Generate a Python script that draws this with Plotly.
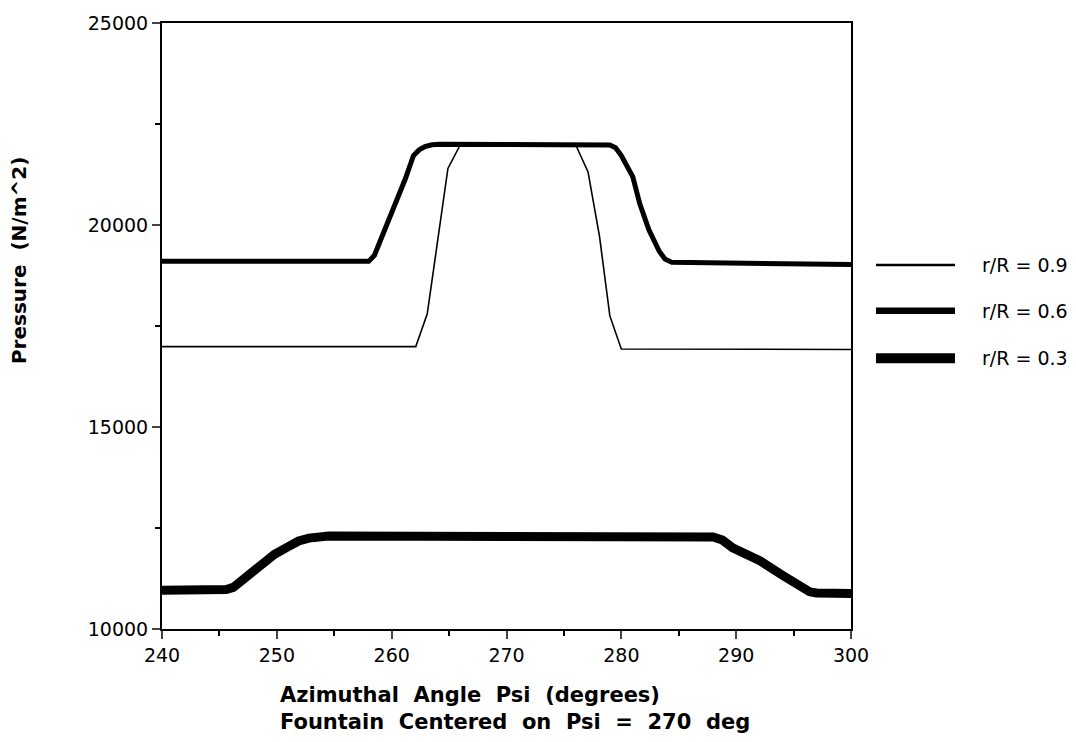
import plotly.graph_objects as go

# Data
psi_09 = [240, 262.1, 263.1, 264.9, 266.0, 276.0, 277.1, 278.1, 279.0, 280.0, 300]
p_09 = [16990, 16990, 17800, 21400, 22000, 22000, 21315, 19720, 17750, 16930, 16920]

psi_06 = [240, 258.0, 258.5, 258.9, 259.7, 260.5, 261.2, 261.9, 262.4, 262.9, 263.5, 264.2,
          278.5, 279.0, 279.5, 280.0, 281.0, 281.6, 282.4, 283.3, 283.8, 284.4, 300]
p_06 = [19100, 19100, 19250, 19530, 20040, 20615, 21150, 21720, 21860, 21940, 21985, 22000,
        22000, 21980, 21910, 21720, 21190, 20530, 19880, 19350, 19160, 19075, 19020]

psi_03 = [240, 245.0, 245.6, 246.2, 247.5, 249.8, 251.0, 251.9, 252.8, 253.6, 254.5,
          288.0, 288.8, 289.7, 292.1, 294.1, 295.8, 296.4, 297.0, 300]
p_03 = [10960, 10960, 10975, 11030, 11320, 11850, 12040, 12180, 12250, 12290, 12300,
        12280, 12200, 12010, 11685, 11320, 10990, 10920, 10890, 10880]

series_names = ["r/R = 0.9", "r/R = 0.6", "r/R = 0.3"]
x_ticks = [240, 250, 260, 270, 280, 290, 300]
y_ticks = [10000, 15000, 20000, 25000]
y_ticktext = ["10000", "15000", "20000", "25000"]

widths = [1.6, 5, 9]
legend_widths = [2.5, 6.5, 10]

fig = go.Figure()
for xs, ys, name, w in zip([psi_09, psi_06, psi_03], [p_09, p_06, p_03],
                           series_names, widths):
    fig.add_trace(go.Scatter(x=xs, y=ys, mode="lines", name=name,
                             line=dict(color="black", width=w), showlegend=False))

font_main = "DejaVu Sans, sans-serif"

fig.update_layout(
    width=1076, height=742,
    margin=dict(l=162, r=225, t=18, b=113),
    paper_bgcolor="white", plot_bgcolor="white",
    font=dict(family=font_main, color="black", size=18),
    xaxis=dict(range=[240, 300], tickvals=x_ticks, ticks="outside", ticklen=8, tickwidth=1.5,
               showline=True, linecolor="black", linewidth=2, mirror=True, showgrid=False,
               zeroline=False, tickfont=dict(size=19),
               minor=dict(dtick=5, ticks="outside", ticklen=5, tickwidth=1.5, tickcolor="black")),
    yaxis=dict(range=[10000, 25000], tickvals=y_ticks, ticktext=y_ticktext,
               ticks="outside", ticklen=8, tickwidth=1.5,
               showline=True, linecolor="black", linewidth=2, mirror=True, showgrid=False,
               zeroline=False, tickfont=dict(size=19),
               minor=dict(dtick=2500, ticks="outside", ticklen=5, tickwidth=1.5, tickcolor="black")),
)

# Axis titles
fig.add_annotation(text="<b>Azimuthal  Angle  Psi  (degrees)<br>"
                        "Fountain  Centered  on  Psi  =  270  deg</b>",
                   xref="paper", yref="paper", x=(278 - 162) / 689, y=-0.085,
                   xanchor="left", yanchor="top", align="left", showarrow=False,
                   font=dict(family=font_main, size=21, color="black"))
fig.add_annotation(text="<b>Pressure  (N/m^2)</b>", xref="paper", yref="paper",
                   x=(19 - 162) / 689, y=(629 - 258) / 611, textangle=-90,
                   xanchor="center", yanchor="middle", showarrow=False,
                   font=dict(family=font_main, size=20, color="black"))

# Custom legend
leg_y = [262, 308, 356]
for name, w, yy in zip(series_names, legend_widths, leg_y):
    yp = (629 - yy) / 611
    fig.add_shape(type="line", xref="paper", yref="paper",
                  x0=(876 - 162) / 689, x1=(955 - 162) / 689, y0=yp, y1=yp,
                  line=dict(color="black", width=w))
    fig.add_annotation(text=name, xref="paper", yref="paper", x=(980 - 162) / 689, y=yp,
                       xanchor="left", yanchor="middle", showarrow=False,
                       font=dict(family=font_main, size=19, color="black"))

fig.write_html("out.html")
